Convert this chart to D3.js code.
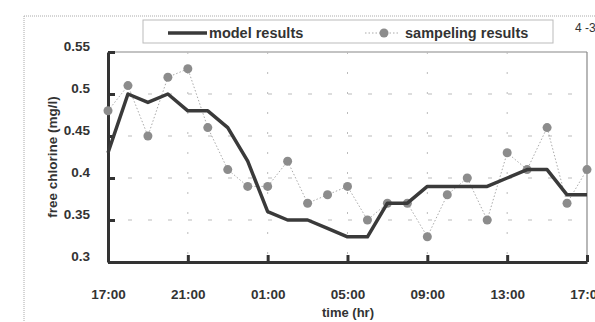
<!DOCTYPE html>
<html>
<head>
<meta charset="utf-8">
<script src="https://cdn.jsdelivr.net/npm/d3@7"></script>
<style>
  html, body { margin: 0; padding: 0; background: #fff; }
  svg { display: block; }
  text { font-family: "Liberation Sans", Arial, sans-serif; }
</style>
</head>
<body>
<svg id="chart" width="595" height="322"></svg>
<script>
// ---- data ----
const hours = [0,1,2,3,4,5,6,7,8,9,10,11,12,13,14,15,16,17,18,19,20,21,22,23,24];
const modelResults = [0.43,0.50,0.49,0.50,0.48,0.48,0.46,0.42,0.36,0.35,0.35,0.34,0.33,0.33,0.37,0.37,0.39,0.39,0.39,0.39,0.40,0.41,0.41,0.38,0.38];
const samplingResults = [0.48,0.51,0.45,0.52,0.53,0.46,0.41,0.39,0.39,0.42,0.37,0.38,0.39,0.35,0.37,0.37,0.33,0.38,0.40,0.35,0.43,0.41,0.46,0.37,0.41];
const xTickHours = [0,4,8,12,16,20,24];
const xTickLabels = ["17:00","21:00","01:00","05:00","09:00","13:00","17:00"];
const yTickValues = [0.3,0.35,0.4,0.45,0.5,0.55];
const yTickLabels = ["0.3","0.35","0.4","0.45","0.5","0.55"];
const seriesNames = ["model results","sampeling results"];

// ---- layout ----
const svg = d3.select("#chart");
const L = 108, R = 587, T = 52, B = 262;
const x = d3.scaleLinear().domain([0,24]).range([L,R]);
const y = d3.scaleLinear().domain([0.3,0.55]).range([B,T]);

// outer dotted frame
svg.append("line").attr("x1",24).attr("x2",595).attr("y1",16).attr("y2",16)
  .attr("stroke","#aaa").attr("stroke-width",1).attr("stroke-dasharray","1,1");
svg.append("line").attr("x1",24).attr("x2",24).attr("y1",16).attr("y2",322)
  .attr("stroke","#aaa").attr("stroke-width",1).attr("stroke-dasharray","1,1");

// page number fragment
svg.append("text").attr("x",575).attr("y",32).attr("font-size",12).attr("fill","#333").text("4 -3");

// plot frame (top/right, light)
svg.append("line").attr("x1",L).attr("x2",R).attr("y1",T).attr("y2",T)
  .attr("stroke","#888").attr("stroke-width",1.2);
svg.append("line").attr("x1",R).attr("x2",R).attr("y1",T).attr("y2",B)
  .attr("stroke","#888").attr("stroke-width",1.2);

// horizontal dashed gridlines
svg.append("g").selectAll("line").data(yTickValues.slice(1,-1)).join("line")
  .attr("x1",L).attr("x2",R).attr("y1",d=>y(d)).attr("y2",d=>y(d))
  .attr("stroke","#bbb").attr("stroke-width",1).attr("stroke-dasharray","4,16");
// vertical dotted gridlines
svg.append("g").selectAll("line").data(xTickHours.slice(1,-1)).join("line")
  .attr("x1",d=>x(d)).attr("x2",d=>x(d)).attr("y1",T).attr("y2",B)
  .attr("stroke","#bbb").attr("stroke-width",1).attr("stroke-dasharray","2,18");

// axes
const yAxis = d3.axisLeft(y).tickValues(yTickValues).tickFormat((d,i)=>yTickLabels[i])
  .tickSizeInner(-7).tickSizeOuter(0).tickPadding(18);
const gy = svg.append("g").attr("transform",`translate(${L},0)`).call(yAxis);
gy.select(".domain").attr("stroke","#333").attr("stroke-width",3);
gy.selectAll(".tick line").attr("stroke","#333").attr("stroke-width",3);
gy.selectAll(".tick text").attr("font-size",13.5).attr("font-weight","bold").attr("fill","#333")
  .attr("dy","-0.1em");

const xAxis = d3.axisBottom(x).tickValues(xTickHours).tickFormat((d,i)=>xTickLabels[i])
  .tickSizeInner(-7).tickSizeOuter(0).tickPadding(27);
const gx = svg.append("g").attr("transform",`translate(0,${B})`).call(xAxis);
gx.select(".domain").attr("stroke","#333").attr("stroke-width",3);
gx.selectAll(".tick line").attr("stroke","#333").attr("stroke-width",3);
gx.selectAll(".tick text").attr("font-size",13.5).attr("font-weight","bold").attr("fill","#333");

// axis titles
svg.append("text").attr("x",348).attr("y",317).attr("text-anchor","middle")
  .attr("font-size",13).attr("font-weight","bold").attr("fill","#333").text("time (hr)");
svg.append("text").attr("transform","translate(57,157) rotate(-90)").attr("text-anchor","middle")
  .attr("font-size",13.5).attr("font-weight","bold").attr("fill","#333").text("free chlorine (mg/l)");

// sampling series
svg.append("path").datum(hours)
  .attr("d", d3.line().x(d=>x(d)).y((d,i)=>y(samplingResults[i])))
  .attr("fill","none").attr("stroke","#aaa").attr("stroke-width",1).attr("stroke-dasharray","1.5,2");
svg.append("g").selectAll("circle").data(hours).join("circle")
  .attr("cx",d=>x(d)).attr("cy",(d,i)=>y(samplingResults[i])).attr("r",4.5).attr("fill","#8c8c8c");

// model series
svg.append("path").datum(hours)
  .attr("d", d3.line().x(d=>x(d)).y((d,i)=>y(modelResults[i])))
  .attr("fill","none").attr("stroke","#3a3a3a").attr("stroke-width",3.5).attr("stroke-linejoin","round");

// legend
const lg = svg.append("g");
lg.append("rect").attr("x",143).attr("y",20).attr("width",410).attr("height",23)
  .attr("fill","#fff").attr("stroke","#bbb").attr("stroke-width",1);
lg.append("line").attr("x1",168).attr("x2",207).attr("y1",33).attr("y2",33)
  .attr("stroke","#3a3a3a").attr("stroke-width",3.5);
lg.append("text").attr("x",209).attr("y",38).attr("font-size",14.5).attr("font-weight","bold")
  .attr("fill","#333").text(seriesNames[0]);
lg.append("line").attr("x1",365).attr("x2",400).attr("y1",33).attr("y2",33)
  .attr("stroke","#aaa").attr("stroke-width",1).attr("stroke-dasharray","1.5,2");
lg.append("circle").attr("cx",384).attr("cy",33).attr("r",4.5).attr("fill","#8c8c8c");
lg.append("text").attr("x",405).attr("y",38).attr("font-size",14.5).attr("font-weight","bold")
  .attr("fill","#333").text(seriesNames[1]);
</script>
</body>
</html>
